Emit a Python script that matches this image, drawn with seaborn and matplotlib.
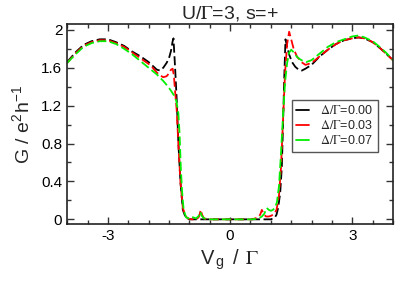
import numpy as np
import pandas as pd
import matplotlib
matplotlib.use("Agg")
import matplotlib.pyplot as plt
from matplotlib.ticker import MultipleLocator
import seaborn as sns

# ── data ────────────────────────────────────────────────────────────
labels = [r"$\Delta/\Gamma$=0.00", r"$\Delta/\Gamma$=0.03", r"$\Delta/\Gamma$=0.07"]
colors = ["#000000", "#ff0000", "#00ee00"]

x_d000 = [-4.0, -3.8, -3.6, -3.4, -3.2, -3.0, -2.8, -2.6, -2.4, -2.2, -2.0, -1.9,
          -1.8, -1.72, -1.64, -1.56, -1.5, -1.45, -1.41, -1.39, -1.35, -1.31, -1.27,
          -1.22, -1.16, -1.10, -1.05, -1.0, 0.0, 1.0, 1.06, 1.10, 1.14, 1.18, 1.23,
          1.27, 1.30, 1.33, 1.36, 1.40, 1.45, 1.52, 1.60, 1.68, 1.76, 1.85, 2.0, 2.2,
          2.4, 2.6, 2.8, 3.0, 3.15, 3.3, 3.5, 3.7, 3.85, 4.0]
g_d000 = [1.66, 1.76, 1.84, 1.88, 1.90, 1.90, 1.87, 1.83, 1.77, 1.72, 1.66, 1.62,
          1.58, 1.57, 1.60, 1.65, 1.70, 1.78, 1.88, 1.91, 1.60, 1.26, 0.81,
          0.40, 0.10, 0.03, 0.01, 0.0, 0.0, 0.0, 0.01, 0.02, 0.05, 0.12, 0.28,
          0.55, 1.00, 1.50, 1.90, 1.82, 1.74, 1.66, 1.61, 1.58, 1.57, 1.59, 1.63, 1.72,
          1.79, 1.85, 1.89, 1.91, 1.92, 1.91, 1.87, 1.80, 1.74, 1.68]

x_d003 = [-4.0, -3.8, -3.6, -3.4, -3.2, -3.0, -2.8, -2.6, -2.4, -2.2, -2.0, -1.9,
          -1.8, -1.72, -1.64, -1.56, -1.5, -1.45, -1.41, -1.38, -1.35, -1.31, -1.27,
          -1.22, -1.16, -1.10, -1.04, -0.95, -0.82, -0.76, -0.72, -0.69, -0.64, -0.55,
          0.55, 0.68, 0.74, 0.78, 0.82, 0.88, 0.95, 1.02, 1.08, 1.14, 1.20, 1.25,
          1.30, 1.35, 1.40, 1.45, 1.50, 1.56, 1.64, 1.75, 1.85, 2.0, 2.2, 2.4, 2.6,
          2.8, 3.0, 3.15, 3.3, 3.5, 3.7, 3.85, 4.0]
g_d003 = [1.65, 1.75, 1.83, 1.87, 1.89, 1.89, 1.86, 1.82, 1.76, 1.70, 1.64, 1.60,
          1.55, 1.52, 1.50, 1.51, 1.54, 1.58, 1.59, 1.52, 1.35, 1.15, 0.80,
          0.40, 0.12, 0.04, 0.01, 0.0, 0.0, 0.03, 0.10, 0.05, 0.01, 0.0,
          0.0, 0.02, 0.05, 0.10, 0.06, 0.03, 0.03, 0.04, 0.06, 0.10, 0.25, 0.55,
          1.05, 1.55, 1.85, 1.98, 1.90, 1.80, 1.72, 1.66, 1.63, 1.65, 1.72, 1.79, 1.85,
          1.89, 1.91, 1.92, 1.91, 1.87, 1.80, 1.74, 1.68]

x_d007 = [-4.0, -3.8, -3.6, -3.4, -3.2, -3.0, -2.8, -2.6, -2.4, -2.2, -2.0, -1.8,
          -1.64, -1.52, -1.44, -1.38, -1.32, -1.27, -1.24, -1.21, -1.18, -1.14, -1.08,
          -1.02, -0.96, -0.90, -0.84, -0.78, -0.73, -0.70, -0.64, -0.55, 0.55, 0.70,
          0.78, 0.84, 0.90, 0.95, 1.00, 1.05, 1.10, 1.15, 1.20, 1.25, 1.30, 1.35,
          1.40, 1.45, 1.50, 1.57, 1.65, 1.75, 1.87, 2.0, 2.2, 2.4, 2.6, 2.8, 3.0,
          3.15, 3.3, 3.5, 3.7, 3.85, 4.0]
g_d007 = [1.65, 1.74, 1.82, 1.86, 1.88, 1.88, 1.85, 1.80, 1.74, 1.67, 1.60, 1.53,
          1.46, 1.40, 1.35, 1.31, 1.25, 1.12, 0.90, 0.55, 0.30, 0.10, 0.02,
          0.01, 0.03, 0.02, 0.01, 0.03, 0.08, 0.04, 0.01, 0.0, 0.0, 0.01,
          0.03, 0.06, 0.12, 0.10, 0.09, 0.10, 0.12, 0.18, 0.35, 0.70, 1.10, 1.45,
          1.65, 1.76, 1.79, 1.76, 1.71, 1.68, 1.66, 1.68, 1.75, 1.82, 1.87, 1.90, 1.93,
          1.94, 1.92, 1.88, 1.81, 1.75, 1.68]

# ── long-form table for seaborn ─────────────────────────────────────
frames = []
for lab, xs, gs in zip(labels, [x_d000, x_d003, x_d007], [g_d000, g_d003, g_d007]):
    frames.append(pd.DataFrame({"Vg": xs, "G": gs, "series": lab}))
df = pd.concat(frames, ignore_index=True)

# ── style ───────────────────────────────────────────────────────────
sns.set_style("ticks")
plt.rcParams["font.family"] = ["Liberation Sans", "DejaVu Sans"]
plt.rcParams["mathtext.fontset"] = "stix"
plt.rcParams["axes.unicode_minus"] = False
plt.rcParams["xtick.direction"] = "in"
plt.rcParams["ytick.direction"] = "in"

fig = plt.figure(figsize=(3.95, 2.84), dpi=100)
ax = fig.add_axes([0.170, 0.211, 0.825, 0.704])

sns.lineplot(data=df, x="Vg", y="G", hue="series", style="series",
             palette=dict(zip(labels, colors)),
             dashes={lab: (5, 2) for lab in labels},
             sort=False, linewidth=1.3, ax=ax)

ax.set_xlim(-4, 4)
ax.set_ylim(-0.05, 2.06)
ax.xaxis.set_major_locator(MultipleLocator(3))
ax.xaxis.set_minor_locator(MultipleLocator(0.5))
ax.yaxis.set_minor_locator(MultipleLocator(0.2))
ax.set_yticks([0, 0.4, 0.8, 1.2, 1.6, 2.0])
ax.set_yticklabels(["0", "0.4", "0.8", "1.2", "1.6", "2"])
ax.tick_params(which="both", top=True, right=True, width=1.0, colors="#333333",
               labelcolor="black")
ax.tick_params(which="major", length=5, labelsize=11)
ax.tick_params(which="minor", length=3)
for sp in ax.spines.values():
    sp.set_linewidth(1.2)
    sp.set_color("#222222")

ax.set_title(r"U/$\Gamma$=3, s=+", fontsize=14, pad=4)
ax.set_xlabel(r"V$_{\,\mathregular{g}}\,$ / $\,\Gamma$", fontsize=14.5, labelpad=3)
ax.set_ylabel(r"G / e$^{\mathregular{2}}$h$^{\mathregular{-1}}$", fontsize=14, labelpad=5)

handles, labs = ax.get_legend_handles_labels()
leg = ax.legend(handles, labs, loc="upper left", bbox_to_anchor=(0.69, 0.62),
                fontsize=9, frameon=True, fancybox=False, edgecolor="#555555",
                framealpha=1, handlelength=1.0, handletextpad=0.9, labelspacing=0.15,
                borderpad=0.35, borderaxespad=0)
for line in leg.get_lines():
    line.set_linestyle("-")

fig.savefig("out.png", dpi=100)
